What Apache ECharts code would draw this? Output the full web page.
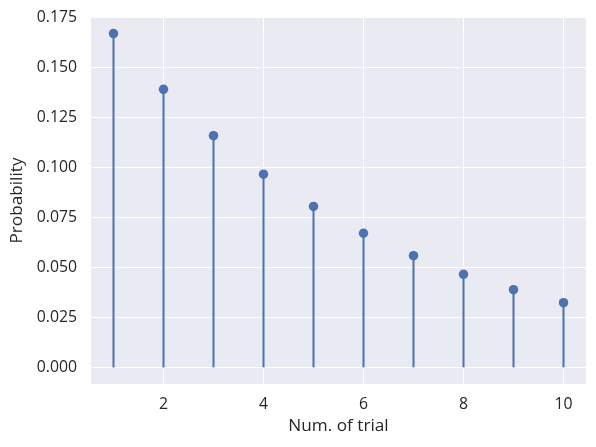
<!DOCTYPE html>
<html><head><meta charset="utf-8">
<script src="https://cdn.jsdelivr.net/npm/echarts@6/dist/echarts.min.js"></script>
<style>html,body{margin:0;padding:0;background:#fff}#c{width:596px;height:447px}</style>
</head><body><div id="c"></div>
<script>
var trials = [1, 2, 3, 4, 5, 6, 7, 8, 9, 10];
var probs = [0.1667, 0.1389, 0.1157, 0.0965, 0.0804, 0.0670, 0.0558, 0.0465, 0.0388, 0.0323];
var yTicks = [0, 0.025, 0.05, 0.075, 0.1, 0.125, 0.15, 0.175];
var xTicks = [2, 4, 6, 8, 10];

var pts = trials.map(function (t, i) { return [t, probs[i]]; });
var chart = echarts.init(document.getElementById('c'));
var font = 'Open Sans';
chart.setOption({
  animation: false,
  textStyle: { fontFamily: font },
  grid: { left: 91, right: 10, top: 17, bottom: 63, show: true, backgroundColor: '#EAEAF2', borderWidth: 0 },
  xAxis: {
    type: 'value', min: 0.55, max: 10.45,
    name: 'Num. of trial', nameLocation: 'middle', nameGap: 34,
    nameTextStyle: { fontSize: 17.2, color: '#262626', fontFamily: font },
    axisLine: { show: false }, axisTick: { show: false, customValues: xTicks },
    axisLabel: { customValues: xTicks, fontSize: 15.8, color: '#262626', margin: 12, fontFamily: font },
    splitLine: { show: true, lineStyle: { color: '#ffffff', width: 1 } }
  },
  yAxis: {
    type: 'value', min: -0.0083, max: 0.175,
    name: 'Probability', nameLocation: 'middle', nameGap: 63,
    nameTextStyle: { fontSize: 17.2, color: '#262626', fontFamily: font },
    axisLine: { show: false }, axisTick: { show: false, customValues: yTicks },
    axisLabel: { customValues: yTicks, fontSize: 15.8, color: '#262626', margin: 14, fontFamily: font,
      formatter: function (v) { return v.toFixed(3); } },
    splitLine: { show: true, lineStyle: { color: '#ffffff', width: 1 } }
  },
  series: [
    { type: 'bar', data: pts, barWidth: 2, itemStyle: { color: '#4C72B0' }, silent: true },
    { type: 'scatter', data: pts, symbolSize: 9.5, itemStyle: { color: '#4C72B0', opacity: 1 }, z: 5 }
  ]
});
</script></body></html>
